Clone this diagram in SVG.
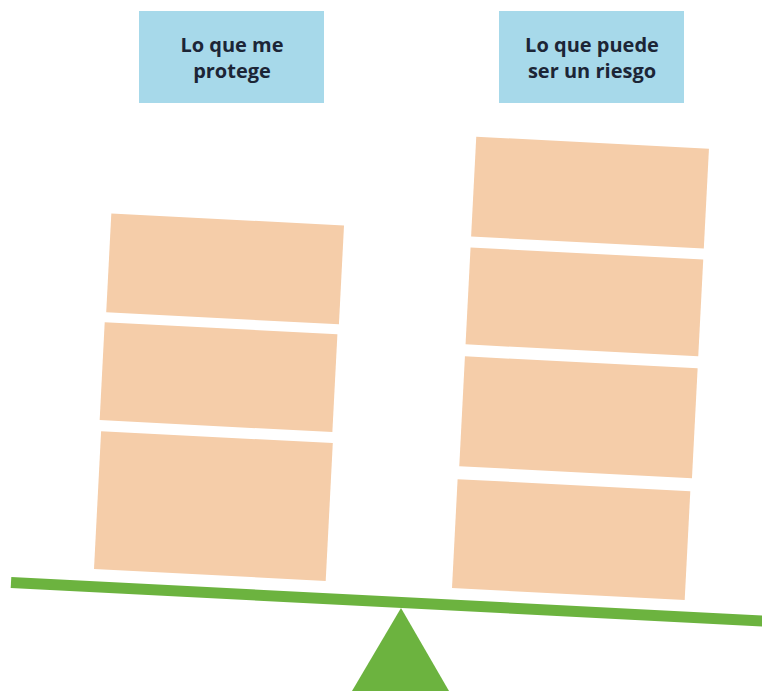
<svg xmlns="http://www.w3.org/2000/svg" width="762" height="694" viewBox="0 0 762 694">
  <style>
    .label { fill: #a7d9ea; }
    .label-text { font-family: "Open Sans", "Liberation Sans", sans-serif; font-weight: bold; font-size: 20px; fill: #1c2536; text-anchor: middle; }
    .block { fill: #f5cda9; }
    .beam { stroke: #6cb33f; stroke-width: 11; fill: none; }
    .fulcrum { fill: #6cb33f; }
  </style>
  <rect width="762" height="694" fill="#ffffff"/>

  <g id="label-protege">
    <rect class="label" x="139" y="11" width="185" height="92"/>
    <text class="label-text" x="232" y="52">Lo que me</text>
    <text class="label-text" x="232" y="78">protege</text>
  </g>

  <g id="label-riesgo">
    <rect class="label" x="499" y="11" width="185" height="92"/>
    <text class="label-text" x="592" y="52">Lo que puede</text>
    <text class="label-text" x="592" y="78">ser un riesgo</text>
  </g>

  <g id="stack-left" transform="translate(94 569) rotate(2.95)">
    <g id="left-block-1"><rect class="block" x="-1" y="-356" width="233" height="99"/></g>
    <g id="left-block-2"><rect class="block" x="-2" y="-247" width="233" height="98"/></g>
    <g id="left-block-3"><rect class="block" x="0" y="-138" width="232" height="138"/></g>
  </g>

  <g id="stack-right" transform="translate(452 588) rotate(2.95)">
    <g id="right-block-1"><rect class="block" x="1" y="-452" width="233" height="100"/></g>
    <g id="right-block-2"><rect class="block" x="1" y="-341" width="233" height="97"/></g>
    <g id="right-block-3"><rect class="block" x="1" y="-232" width="233" height="110"/></g>
    <g id="right-block-4"><rect class="block" x="0" y="-109" width="233" height="109"/></g>
  </g>

  <g id="connectors">
    <line class="beam" x1="11" y1="582.5" x2="770" y2="621.4"/>
  </g>

  <g id="fulcrum">
    <polygon class="fulcrum" points="401,608 352,691 449,691"/>
  </g>
</svg>
